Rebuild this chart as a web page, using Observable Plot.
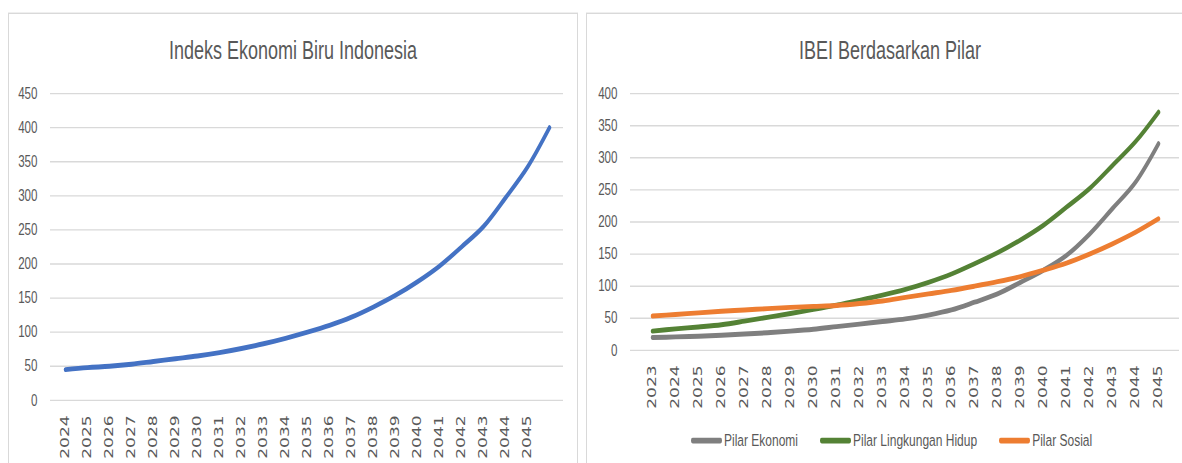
<!DOCTYPE html>
<html>
<head>
<meta charset="utf-8">
<script src="https://cdn.jsdelivr.net/npm/d3@7"></script>
<script src="https://cdn.jsdelivr.net/npm/@observablehq/plot@0.6"></script>
<style>
html, body { margin: 0; padding: 0; background: #fff; }
body { width: 1182px; height: 463px; }
#stage { position: relative; width: 1182px; height: 331px; transform: scaleY(1.3988); transform-origin: 0 0;
  font-family: "Liberation Sans", Arial, sans-serif; color: #595959; }
.panel { position: absolute; border: 1px solid #d9d9d9; box-sizing: border-box; pointer-events: none; }
.title { position: absolute; top: 26.5px; font-size: 18px; line-height: 18px; white-space: nowrap; transform: translateX(-50%); }
.chart { position: absolute; top: 0; }
.chart svg { overflow: visible; background: transparent; max-width: none; }
#legend { position: absolute; left: 691px; top: 308px; display: flex; align-items: center; font-size: 12px; line-height: 14px; white-space: nowrap; }
.item { display: flex; align-items: center; margin-right: 22px; }
.sw { width: 31px; height: 3.4px; border-radius: 1.7px; margin-right: 2px; }
</style>
</head>
<body>
<div id="stage">
  <div id="leftChart" class="chart" style="left:0px"></div>
  <div id="rightChart" class="chart" style="left:580px"></div>
  <div class="panel" style="left:8px; top:9.3px; width:570px; height:340px"></div>
  <div class="panel" style="left:586px; top:9.3px; width:700px; height:340px"></div>
  <div id="leftTitle" class="title" style="left:293px"></div>
  <div id="rightTitle" class="title" style="left:890px"></div>
  <div id="legend"></div>
</div>
<script>
// ---- data ----
const leftTitle = "Indeks Ekonomi Biru Indonesia";
const rightTitle = "IBEI Berdasarkan Pilar";

const leftYears = ["2024","2025","2026","2027","2028","2029","2030","2031","2032","2033","2034",
  "2035","2036","2037","2038","2039","2040","2041","2042","2043","2044","2045",""];
const leftValues = [45, 48, 50, 53, 57, 61, 65, 70, 76, 83, 91,
  100, 110, 122, 137, 154, 174, 197, 225, 255, 297, 342, 400];
const leftYTicks = [0, 50, 100, 150, 200, 250, 300, 350, 400, 450];

const rightYears = ["2023","2024","2025","2026","2027","2028","2029","2030","2031","2032","2033",
  "2034","2035","2036","2037","2038","2039","2040","2041","2042","2043","2044","2045"];
const seriesNames = ["Pilar Ekonomi", "Pilar Lingkungan Hidup", "Pilar Sosial"];
const seriesColors = ["#7f7f7f", "#548235", "#ed7d31"];
const pilarEkonomi = [20, 21, 22, 23.5, 25.5, 27.5, 30, 33, 37, 41, 45,
  49, 55, 63, 75, 88, 106, 125, 148, 181, 221, 262, 322];
const pilarLingkungan = [30, 33.5, 36.5, 40, 45.5, 51.5, 57.5, 64, 70.5, 78, 86,
  95, 106, 119, 135, 152, 172, 195, 223, 252, 288, 325, 371];
const pilarSosial = [53.5, 56, 58.5, 61, 63, 65, 67, 68.5, 70, 73, 77,
  82.5, 88, 93.5, 100, 107, 115, 125, 136, 150, 166, 184, 205];
const rightYTicks = [0, 50, 100, 150, 200, 250, 300, 350, 400];

// ---- build tables ----
const leftData = leftYears.map((year, i) => ({year, value: leftValues[i]}));
const seriesValues = [pilarEkonomi, pilarLingkungan, pilarSosial];
const rightData = seriesNames.flatMap((name, s) =>
  rightYears.map((year, i) => ({series: name, year, value: seriesValues[s][i]})));

const yFont = "Liberation Sans, Arial, sans-serif";
const xFont = "DejaVu Sans, Verdana, sans-serif";
const textColor = "#595959";
const gridColor = "#d9d9d9";

const left = Plot.plot({
  width: 580, height: 331,
  marginLeft: 50, marginRight: 17, marginTop: 66.4, marginBottom: 45.3,
  style: {background: "transparent", overflow: "visible"},
  x: {type: "point", domain: leftYears, padding: 0.5, label: null},
  y: {domain: [0, 450], label: null},
  marks: [
    Plot.gridY(leftYTicks, {stroke: gridColor, strokeOpacity: 1, strokeWidth: 1}),
    Plot.axisY(leftYTicks, {tickSize: 0, tickPadding: 13, fontSize: 11.6, fontFamily: yFont, fill: textColor, label: null}),
    Plot.axisX({tickSize: 0, tickPadding: 10.7, tickRotate: -90, fontSize: 12.2, fontFamily: xFont, fill: textColor, label: null}),
    Plot.line(leftData, {x: "year", y: "value", stroke: "#4472c4", strokeWidth: 3.5, curve: "catmull-rom", strokeLinecap: "round"})
  ]
});
document.getElementById("leftChart").appendChild(left);

const right = Plot.plot({
  width: 602, height: 331,
  marginLeft: 50, marginRight: 3, marginTop: 66.4, marginBottom: 81,
  style: {background: "transparent", overflow: "visible"},
  x: {type: "point", domain: rightYears, padding: 0.5, label: null},
  y: {domain: [0, 400], label: null},
  color: {domain: seriesNames, range: seriesColors},
  marks: [
    Plot.gridY(rightYTicks, {stroke: gridColor, strokeOpacity: 1, strokeWidth: 1}),
    Plot.axisY(rightYTicks, {tickSize: 0, tickPadding: 13, fontSize: 11.6, fontFamily: yFont, fill: textColor, label: null}),
    Plot.axisX({tickSize: 0, tickPadding: 10.7, tickRotate: -90, fontSize: 12.2, fontFamily: xFont, fill: textColor, label: null}),
    Plot.line(rightData, {x: "year", y: "value", z: "series", stroke: "series", strokeWidth: 3.5, curve: "catmull-rom", strokeLinecap: "round"})
  ]
});
document.getElementById("rightChart").appendChild(right);

document.getElementById("leftTitle").textContent = leftTitle;
document.getElementById("rightTitle").textContent = rightTitle;

const legend = document.getElementById("legend");
seriesNames.forEach((name, i) => {
  const item = document.createElement("div");
  item.className = "item";
  const sw = document.createElement("span");
  sw.className = "sw";
  sw.style.background = seriesColors[i];
  const label = document.createElement("span");
  label.textContent = name;
  item.appendChild(sw);
  item.appendChild(label);
  legend.appendChild(item);
});
</script>
</body>
</html>
